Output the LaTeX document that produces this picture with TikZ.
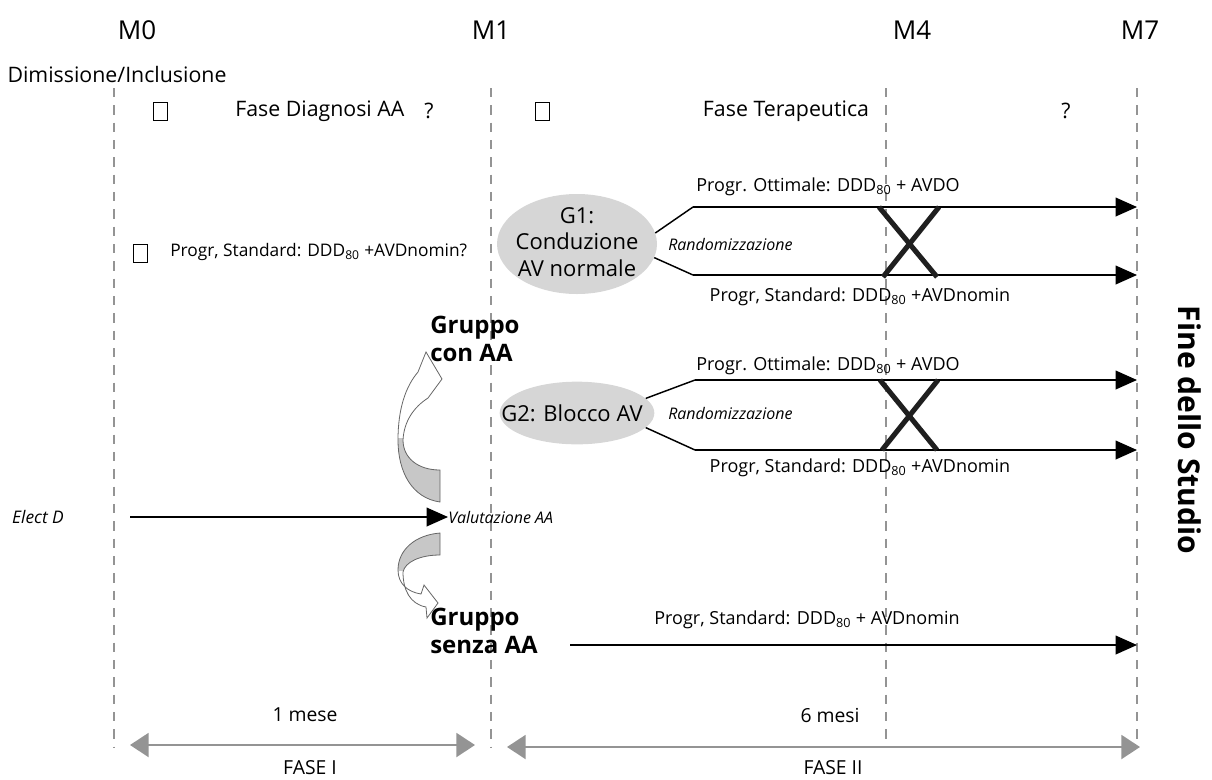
\documentclass[tikz,border=0pt]{standalone}
\usepackage{fontspec}
\setmainfont{Open Sans}
\usetikzlibrary{arrows.meta,shapes.geometric}
\begin{document}
\begin{tikzpicture}[x=0.75pt,y=-0.75pt,
  vline/.style={draw=black!42, line width=1.5pt, dash pattern=on 7pt off 6pt},
  lab/.style={font=\fontsize{16}{19}\selectfont, inner sep=0pt},
  blab/.style={font=\fontsize{14.5}{17}\selectfont, inner sep=0pt},
  mlab/.style={font=\fontsize{19.5}{23}\selectfont, inner sep=0pt},
  branchlab/.style={font=\fontsize{13.5}{16}\selectfont, inner sep=0pt},
  itlab/.style={font=\fontsize{12}{14}\selectfont\itshape, inner sep=0pt},
  grp/.style={font=\fontsize{18}{21.5}\selectfont\bfseries, inner sep=0pt, align=left},
  ell/.style={ellipse, fill=black!16, inner sep=0pt},
  elltext/.style={align=center, inner sep=0pt, font=\fontsize{16.5}{20}\selectfont},
  emptybox/.style={draw, line width=0.6pt, minimum width=10.5pt, minimum height=13.5pt, inner sep=0pt},
  branch/.style={line width=1.1pt},
  tip/.style={-{Triangle[length=16pt,width=14pt]}},
  cross/.style={line width=3.8pt, draw=black!88},
  grayarr/.style={draw=black!42, line width=1.6pt, {Triangle[length=14pt,width=18pt]}-{Triangle[length=14pt,width=18pt]}},
  curvarrow/.style={draw=black!60, line width=0.6pt}
]
\useasboundingbox (0,0) rectangle (1212,779);

% vertical dashed lines
\foreach \x/\n in {114/m0, 491/m1, 886/m4, 1137/m7} {
  \coordinate (\n top) at (\x,88);
  \coordinate (\n bot) at (\x,748);
  \draw[vline] (\n top) -- (\n bot);
}

% month labels
\node[mlab] (lm0) at (137,30) {M0};
\node[mlab] (lm1) at (491,30) {M1};
\node[mlab] (lm4) at (912,30) {M4};
\node[mlab] (lm7) at (1140,30) {M7};

% top row
\node[lab] (dim) at (117,74) {Dimissione/Inclusione};
\node[emptybox] (b1) at (160,111) {};
\node[lab, anchor=west] (fd) at (235,111) {Fase Diagnosi AA};
\node[lab] (q1) at (429,111) {?};
\node[emptybox] (b2) at (542,111) {};
\node[lab] (ft) at (786,111) {Fase Terapeutica};
\node[lab] (q2) at (1066,111) {?};

\node[emptybox] (b3) at (140,253) {};
\node[branchlab, font=\fontsize{13}{16}\selectfont, anchor=west] (ps0) at (170,252) {Progr, Standard: DDD\textsubscript{80} +AVDnomin?};

% G1
\node[ell, minimum width=120pt, minimum height=75pt] (g1) at (577,244) {};
\node[elltext] (g1t) at (577,242) {G1:\\Conduzione\\AV normale};
\coordinate (g1a) at (693,207);
\coordinate (g1b) at (693,275);
\coordinate (g1ae) at (1137,207);
\coordinate (g1be) at (1137,275);
\draw[branch] (g1.8) -- (g1a);
\draw[branch] (g1.-10) -- (g1b);
\draw[branch, tip] (g1a) -- (g1ae);
\draw[branch, tip] (g1b) -- (g1be);
\node[branchlab] (g1ot) at (828,187) {Progr. Ottimale: DDD\textsubscript{80} + AVDO};
\node[branchlab] (g1st) at (860,297) {Progr, Standard: DDD\textsubscript{80} +AVDnomin};
\node[itlab, anchor=west] (g1r) at (668,244) {Randomizzazione};
\coordinate (x1a) at (879,207); \coordinate (x1b) at (937,277);
\coordinate (x1c) at (939,207); \coordinate (x1d) at (883,277);
\draw[cross] (x1a) -- (x1b);
\draw[cross] (x1c) -- (x1d);

% Gruppo con AA
\node[grp, anchor=west] (gca) at (430,339) {Gruppo\\con AA};

% G2
\node[ell, minimum width=116pt, minimum height=47pt] (g2) at (577,413) {};
\node[elltext] (g2t) at (572,413) {G2: Blocco AV};
\coordinate (g2a) at (695,380);
\coordinate (g2b) at (695,450);
\coordinate (g2ae) at (1137,380);
\coordinate (g2be) at (1137,450);
\draw[branch] (g2.12) -- (g2a);
\draw[branch] (g2.-12) -- (g2b);
\draw[branch, tip] (g2a) -- (g2ae);
\draw[branch, tip] (g2b) -- (g2be);
\node[branchlab] (g2ot) at (828,366) {Progr. Ottimale: DDD\textsubscript{80} + AVDO};
\node[branchlab] (g2st) at (860,468) {Progr, Standard: DDD\textsubscript{80} +AVDnomin};
\node[itlab, anchor=west] (g2r) at (668,413) {Randomizzazione};
\coordinate (x2a) at (880,380); \coordinate (x2b) at (937,450);
\coordinate (x2c) at (938,380); \coordinate (x2d) at (882,450);
\draw[cross] (x2a) -- (x2b);
\draw[cross] (x2c) -- (x2d);

% Elect D -> Valutazione AA
\node[itlab, font=\fontsize{13}{15}\selectfont\itshape] (ed) at (38,517) {Elect D};
\coordinate (eda) at (130,517);
\node[itlab, anchor=west] (val) at (448,517) {Valutazione AA};
\draw[branch, tip] (eda) -- (val.west);

% curved arrows
\def\upperpath{(440,502) .. controls (412,498) and (398,472) .. (398,440) .. controls (398,408) and (406,386) .. (418,372) -- (426,352) -- (442,379) -- (428,398) .. controls (414,407) and (404,421) .. (403,440) .. controls (403,458) and (418,470) .. (440,470) -- cycle}
\fill[white] \upperpath;
\begin{scope}
  \clip (380,438) rectangle (450,510);
  \fill[black!22] \upperpath;
\end{scope}
\draw[curvarrow] \upperpath;

\def\lowerpath{(440,533) .. controls (415,535) and (398,550) .. (398,570) .. controls (398,584) and (408,592) .. (421,594) -- (424,585) -- (438,603) -- (427,618) -- (426,607) .. controls (410,604) and (403,590) .. (403,572) .. controls (405,562) and (420,555) .. (440,555) -- cycle}
\fill[white] \lowerpath;
\begin{scope}
  \clip (380,520) rectangle (450,570);
  \fill[black!22] \lowerpath;
\end{scope}
\draw[curvarrow] \lowerpath;

% Gruppo senza AA
\node[grp, anchor=west] (gsa) at (430,631) {Gruppo\\senza AA};
\coordinate (gsae) at (1137,645);
\coordinate (gsas) at (570,645);
\draw[branch, tip] (gsas) -- (gsae);
\node[branchlab] (gsat) at (807,620) {Progr, Standard: DDD\textsubscript{80} + AVDnomin};

% Fine dello Studio
\node[font=\fontsize{22.5}{26}\selectfont\bfseries, rotate=-90, inner sep=0pt] (fine) at (1190,430) {Fine dello Studio};

% bottom
\node[blab] (m1) at (305,715) {1 mese};
\node[blab] (m6) at (830,715) {6 mesi};
\coordinate (f1a) at (130,745); \coordinate (f1b) at (475,745);
\coordinate (f2a) at (507,747); \coordinate (f2b) at (1140,747);
\draw[grayarr] (f1a) -- (f1b);
\draw[grayarr] (f2a) -- (f2b);
\node[blab] (fase1) at (310,768) {FASE I};
\node[blab] (fase2) at (833,768) {FASE II};
\end{tikzpicture}
\end{document}
